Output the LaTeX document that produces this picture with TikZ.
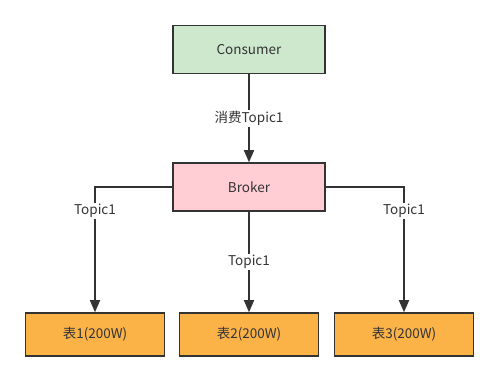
\documentclass[tikz,border=0pt]{standalone}
\usepackage{fontspec}
\setmainfont{Noto Sans CJK SC}
\usetikzlibrary{arrows.meta}
\definecolor{cgreen}{HTML}{CDE8CC}
\definecolor{cpink}{HTML}{FFCDD3}
\definecolor{corange}{HTML}{FBB348}
\definecolor{cline}{HTML}{333333}
\begin{document}
\begin{tikzpicture}[x=1pt,y=-1pt,
  box/.style={draw=cline,line width=1.5pt,minimum width=#1,minimum height=48pt,inner sep=0pt,font=\fontsize{13.5}{15}\selectfont,text=cline},
  conn/.style={draw=cline,line width=1.6pt,-{Triangle[length=12pt,width=10pt]}},
  lbl/.style={fill=white,inner sep=1.5pt,font=\fontsize{13.5}{15}\selectfont,text=cline}]
\useasboundingbox[fill=white] (0,0) rectangle (499,382);
\node[box=152pt,fill=cgreen] (consumer) at (249,49.5) {Consumer};
\node[box=152pt,fill=cpink] (broker) at (249,187) {Broker};
\node[box=139pt,minimum height=43pt,fill=corange] (t1) at (95,334.5) {表1(200W)};
\node[box=139pt,minimum height=43pt,fill=corange] (t2) at (249,334.5) {表2(200W)};
\node[box=139pt,minimum height=43pt,fill=corange] (t3) at (404,334.5) {表3(200W)};
\draw[conn] (consumer) -- node[lbl,pos=0.5] {消费Topic1} (broker);
\draw[conn] (broker.west) -| node[lbl,pos=0.595] {Topic1} (t1.north);
\draw[conn] (broker) -- node[lbl,pos=0.5] {Topic1} (t2);
\draw[conn] (broker.east) -| node[lbl,pos=0.595] {Topic1} (t3.north);
\end{tikzpicture}
\end{document}
